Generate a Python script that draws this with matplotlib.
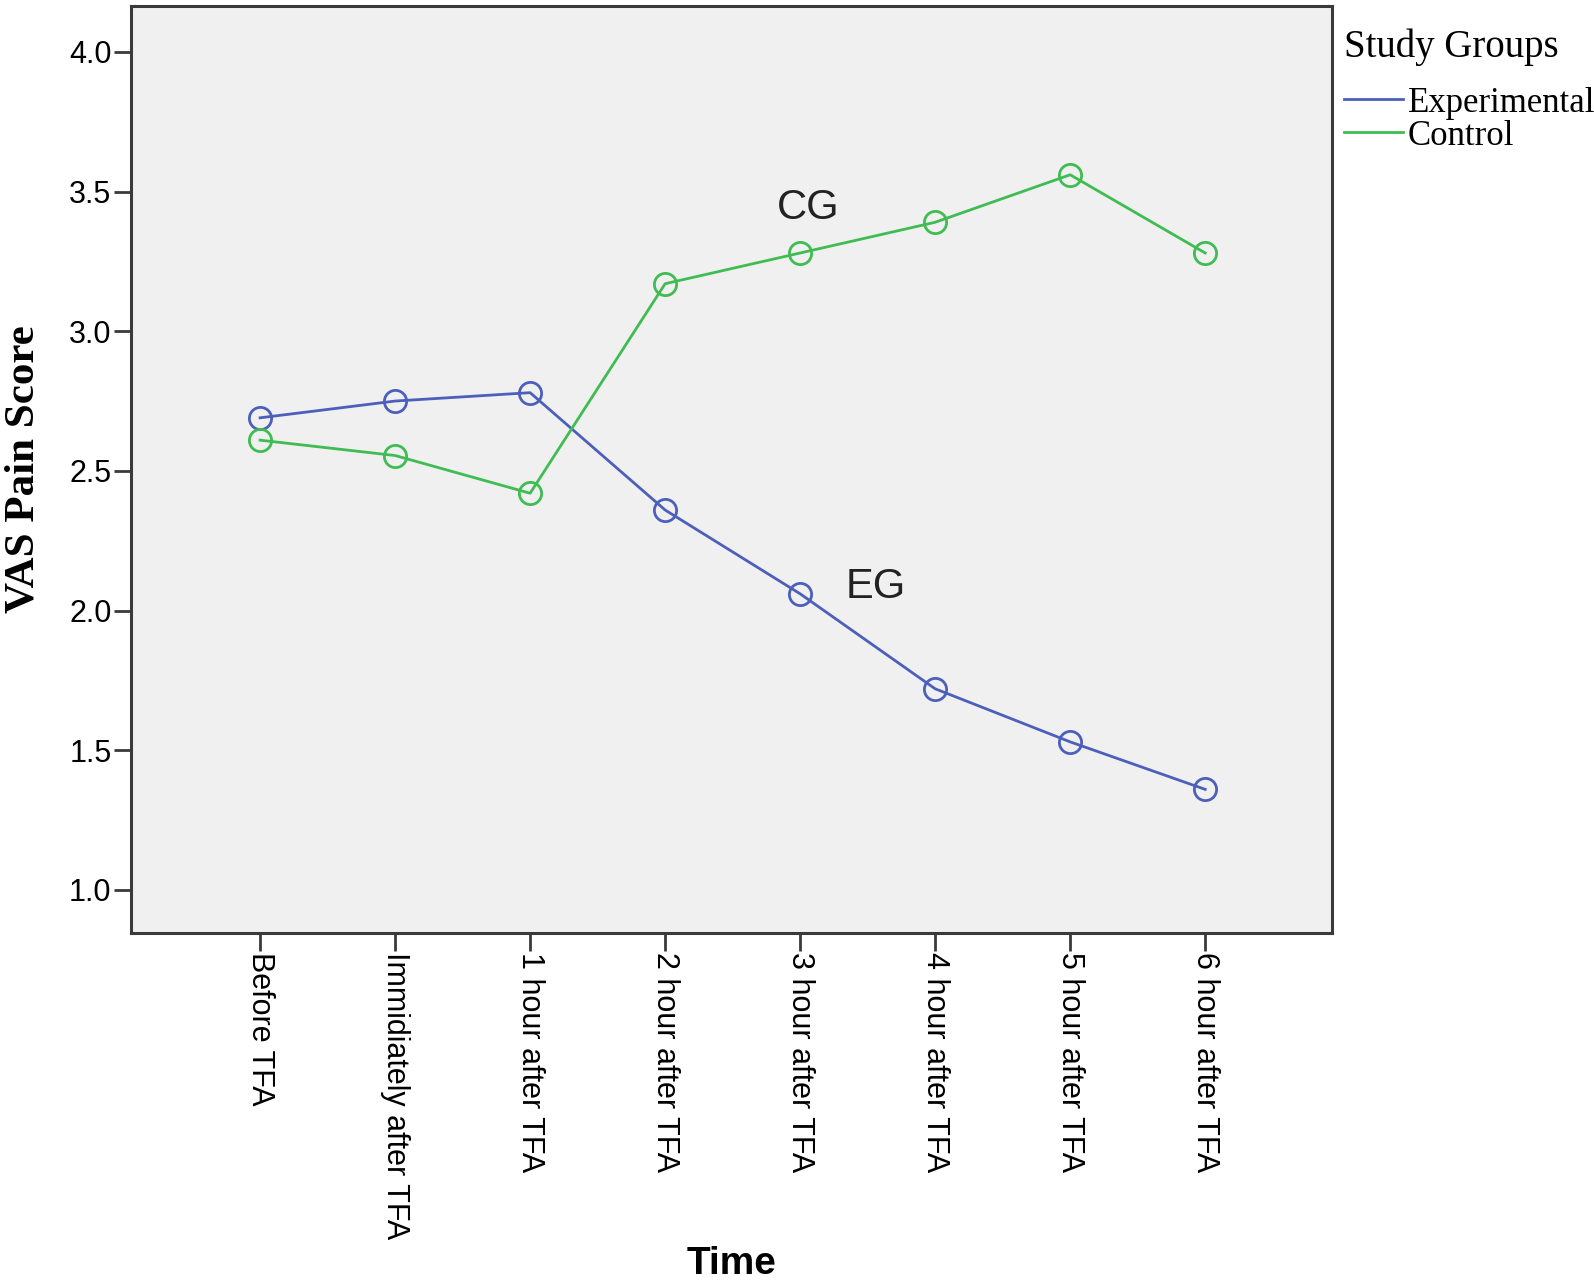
import numpy as np
import matplotlib
matplotlib.use('Agg')
import matplotlib.pyplot as plt

# time points (x axis categories)
times = ['Before TFA', 'Immidiately after TFA', '1 hour after TFA',
         '2 hour after TFA', '3 hour after TFA', '4 hour after TFA',
         '5 hour after TFA', '6 hour after TFA']

# mean VAS pain scores
experimental = [2.69, 2.75, 2.78, 2.36, 2.06, 1.72, 1.53, 1.36]
control      = [2.61, 2.555, 2.42, 3.17, 3.28, 3.39, 3.56, 3.28]

yticks = [1.0, 1.5, 2.0, 2.5, 3.0, 3.5, 4.0]

blue  = '#4c5fbb'
green = '#3fbc52'
frame = '#3a3a3a'

fig = plt.figure(figsize=(15.94, 12.84), dpi=100)
ax  = fig.add_axes([0.0822, 0.2734, 0.7535, 0.7219])
ax.set_facecolor('#f0f0f0')

x = np.arange(len(times))
l1, = ax.plot(x, experimental, color=blue, lw=2, marker='o', ms=16,
              mfc='none', mec=blue, mew=2, label='Experimental')
l2, = ax.plot(x, control, color=green, lw=2, marker='o', ms=16,
              mfc='none', mec=green, mew=2, label='Control')

ax.text(4.06, 3.44, 'CG', fontsize=30, family='Liberation Sans',
        ha='center', va='center', color='#222222')
ax.text(4.56, 2.085, 'EG', fontsize=30, family='Liberation Sans',
        ha='center', va='center', color='#222222')

ax.set_xlim(-0.956, 7.94)
ax.set_ylim(0.846, 4.164)

ax.set_yticks(yticks)
ax.set_yticklabels(['%.1f' % v for v in yticks], family='Liberation Sans',
                   fontsize=22)
ax.set_xticks(x)
ax.set_xticklabels(times, rotation=270, family='Liberation Sans',
                   fontsize=22, ha='center', va='top')

ax.tick_params(axis='y', length=12, width=2, color=frame, pad=2)
ax.tick_params(axis='x', length=13, width=2, color=frame, pad=1)

for s in ax.spines.values():
    s.set_color(frame)
    s.set_linewidth(2.2)

ax.set_ylabel('VAS Pain Score', family='Liberation Serif', fontweight='bold',
              fontsize=31, labelpad=19)
ax.set_xlabel('Time', family='Liberation Sans', fontweight='bold',
              fontsize=28)
ax.xaxis.set_label_coords(0.5, -0.338)

leg = fig.legend(handles=[l1, l2], labels=['Experimental', 'Control'],
                 title='Study Groups', loc='upper left',
                 bbox_to_anchor=(0.843, 0.978), frameon=False,
                 prop={'family': 'Liberation Serif', 'size': 25},
                 title_fontproperties={'family': 'Liberation Serif', 'size': 28},
                 handlelength=1.7, handletextpad=0.15, labelspacing=0.0,
                 borderaxespad=0, borderpad=0)
for h in leg.legend_handles:
    h.set_marker('')
leg._legend_box.align = 'left'
leg._legend_box.sep = 15

fig.savefig('out.png', dpi=100)
